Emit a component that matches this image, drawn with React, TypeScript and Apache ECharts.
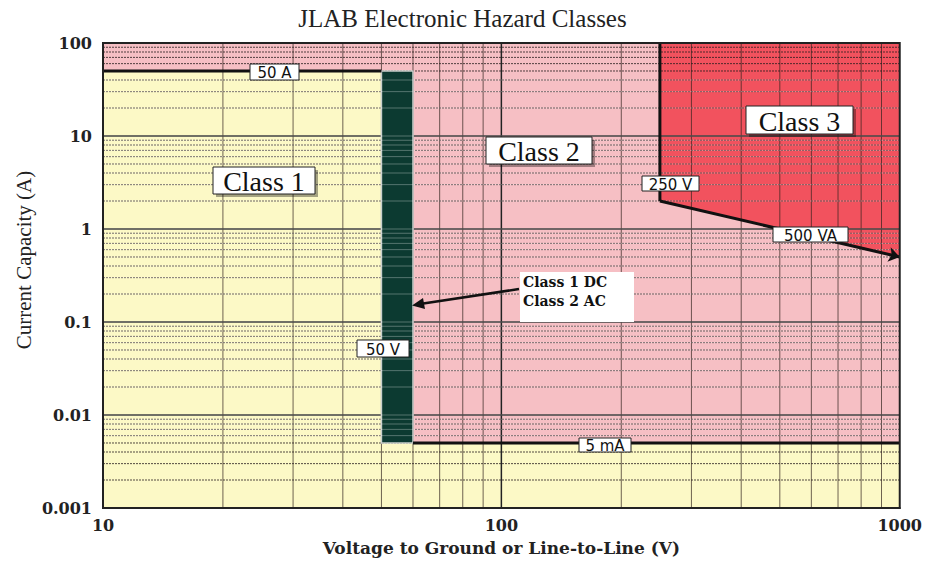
import React, { useEffect, useRef } from "react";
import * as echarts from "echarts";

// ---------- data ----------
const chartTitle = "JLAB Electronic Hazard Classes";
const xAxisName = "Voltage to Ground or Line-to-Line (V)";
const yAxisName = "Current Capacity (A)";

const xRange = [10, 1000];
const yRange = [0.001, 100];

// hazard class boundaries
const LIMIT_50A = 50;
const LIMIT_50V = 50;
const LIMIT_5MA = 0.005;
const LIMIT_250V = 250;
const VA_START = [250, 2];
const VA_END = [1000, 0.5];

const class2Region = [[10, 0.001], [10, 100], [1000, 100], [1000, 0.001]];
const class1Region = [[10, 0.001], [10, 50], [50, 50], [50, 0.005], [1000, 0.005], [1000, 0.001]];
const class3Region = [[250, 100], [1000, 100], [1000, 0.5], [250, 2]];
const dcBarRegion = [[50, 0.005], [50, 50], [60, 50], [60, 0.005]];

const line50A = [[10, 50], [50, 50]];
const line5mA = [[60, 0.005], [1000, 0.005]];
const line250V = [[250, 100], [250, 2]];

// log-paper grid lines
const xMinorGrid = [20, 30, 40, 50, 60, 70, 80, 90, 200, 300, 400, 500, 600, 700, 800, 900];
const xMajorGrid = [100];
const yMinorGrid = [
  0.002, 0.003, 0.004, 0.005, 0.006, 0.007, 0.008, 0.009,
  0.02, 0.03, 0.04, 0.05, 0.06, 0.07, 0.08, 0.09,
  0.2, 0.3, 0.4, 0.5, 0.6, 0.7, 0.8, 0.9,
  2, 3, 4, 5, 6, 7, 8, 9,
  20, 30, 40, 50, 60, 70, 80, 90,
];
const yMajorGrid = [0.01, 0.1, 1, 10];

// ---------- styles ----------
const YELLOW = "#fcf9c6";
const PINK = "#f6bfc4";
const RED = "#f2525e";
const DARK = "#0c3a31";

const regions = [
  { pts: class2Region, fill: PINK },
  { pts: class1Region, fill: YELLOW },
  { pts: class3Region, fill: RED },
];

function fmtNum(v: number) {
  return String(Number(v.toPrecision(3)));
}

function labelBox(x: number, y: number, w: number, h: number, text: string, font: any, shadow: boolean): any[] {
  const els: any[] = [];
  if (shadow) {
    els.push({
      type: "rect",
      z: 100,
      shape: { x: x + 3, y: y + 3, width: w, height: h },
      style: { fill: "rgba(0,0,0,0.35)" },
    });
  }
  els.push({
    type: "rect",
    z: 101,
    shape: { x, y, width: w, height: h },
    style: { fill: "#ffffff", stroke: "#222", lineWidth: 1 },
  });
  els.push({
    type: "text",
    z: 102,
    x: x + w / 2,
    y: y + h / 2 + 1,
    style: {
      text,
      align: "center",
      verticalAlign: "middle",
      fill: "#111",
      fontFamily: font.fontFamily,
      fontSize: font.fontSize,
    },
  });
  return els;
}

export default function App() {
  const ref = useRef<HTMLDivElement>(null);

  useEffect(() => {
    if (!ref.current) return;
    const chart = echarts.init(ref.current, undefined, { renderer: "svg" });

    const smallFont = { fontFamily: "DejaVu Sans", fontSize: 15 };
    const classFont = { fontFamily: "Liberation Serif", fontSize: 28 };

    const gridLine = (values: number[], vertical: boolean, style: any, z: number) => ({
      type: "custom",
      coordinateSystem: "cartesian2d",
      silent: true,
      z,
      clip: true,
      data: values.map((v) => (vertical ? [v, yRange[0]] : [xRange[0], v])),
      renderItem: (_p: any, api: any) => {
        const a = vertical ? api.coord([api.value(0), yRange[0]]) : api.coord([xRange[0], api.value(1)]);
        const b = vertical ? api.coord([api.value(0), yRange[1]]) : api.coord([xRange[1], api.value(1)]);
        return {
          type: "line",
          shape: { x1: a[0], y1: a[1], x2: b[0], y2: b[1] },
          style,
        };
      },
    });

    const boundary = (data: number[][]) => ({
      type: "line",
      data,
      z: 6,
      silent: true,
      showSymbol: false,
      symbol: "none",
      lineStyle: { color: "#111", width: 3 },
    });

    chart.setOption({
      animation: false,
      title: {
        text: chartTitle,
        left: "center",
        top: 1,
        textStyle: { fontFamily: "Liberation Serif", fontSize: 25, fontWeight: "normal", color: "#222" },
      },
      grid: { left: 103, right: 20, top: 43, bottom: 47 },
      xAxis: {
        type: "log",
        logBase: 10,
        min: xRange[0],
        max: xRange[1],
        name: xAxisName,
        nameLocation: "middle",
        nameGap: 31,
        nameTextStyle: { fontFamily: "DejaVu Serif", fontWeight: "bold", fontSize: 17, color: "#222" },
        axisLine: { show: true, lineStyle: { color: "#222", width: 2 } },
        axisTick: { show: false },
        splitLine: { show: false },
        axisLabel: {
          margin: 9,
          fontFamily: "DejaVu Serif",
          fontWeight: "bold",
          fontSize: 16,
          color: "#222",
          formatter: (v: number) => fmtNum(v),
        },
      },
      yAxis: {
        type: "log",
        logBase: 10,
        min: yRange[0],
        max: yRange[1],
        splitNumber: 5,
        axisLine: { show: true, lineStyle: { color: "#222", width: 2 } },
        axisTick: { show: false },
        splitLine: { show: false },
        axisLabel: {
          margin: 11,
          fontFamily: "DejaVu Serif",
          fontWeight: "bold",
          fontSize: 16,
          color: "#222",
          formatter: (v: number) => fmtNum(v),
        },
      },
      series: [
        {
          type: "custom",
          coordinateSystem: "cartesian2d",
          silent: true,
          z: 1,
          clip: true,
          data: regions.map((r, i) => [r.pts[0][0], r.pts[0][1], i]),
          renderItem: (_p: any, api: any) => {
            const r = regions[api.value(2)];
            return {
              type: "polygon",
              shape: { points: r.pts.map((p) => api.coord(p)) },
              style: { fill: r.fill },
            };
          },
        },
        gridLine(xMinorGrid, true, { stroke: "rgba(50,35,30,0.7)", lineWidth: 1 }, 2),
        gridLine(yMinorGrid, false, { stroke: "rgba(40,30,30,0.8)", lineWidth: 1, lineDash: [2, 1] }, 2),
        gridLine(xMajorGrid, true, { stroke: "#222", lineWidth: 1.5 }, 3),
        gridLine(yMajorGrid, false, { stroke: "#222", lineWidth: 1.3 }, 3),
        {
          type: "custom",
          coordinateSystem: "cartesian2d",
          silent: true,
          z: 4,
          clip: true,
          data: [[dcBarRegion[0][0], dcBarRegion[0][1]]],
          renderItem: (_p: any, api: any) => ({
            type: "polygon",
            shape: { points: dcBarRegion.map((p) => api.coord(p)) },
            style: { fill: DARK, stroke: "#c9cfcc", lineWidth: 1.5 },
          }),
        },
        gridLine(
          yMajorGrid.concat(yMinorGrid).filter((v) => v > LIMIT_5MA && v < LIMIT_50A),
          false,
          { stroke: "rgba(255,255,255,0.3)", lineWidth: 1 },
          5
        ),
        boundary(line50A),
        boundary(line5mA),
        boundary(line250V),
        {
          type: "lines",
          coordinateSystem: "cartesian2d",
          silent: true,
          z: 6,
          symbol: ["none", "arrow"],
          symbolSize: 11,
          lineStyle: { color: "#111", width: 3, opacity: 1, curveness: 0 },
          data: [{ coords: [VA_START, VA_END] }],
        },
        {
          type: "custom",
          coordinateSystem: "cartesian2d",
          silent: true,
          z: 7,
          clip: false,
          data: [[xRange[0], yRange[0]]],
          renderItem: (_p: any, api: any) => {
            const a = api.coord([xRange[0], yRange[1]]);
            const b = api.coord([xRange[1], yRange[0]]);
            return {
              type: "rect",
              shape: { x: a[0], y: a[1], width: b[0] - a[0], height: b[1] - a[1] },
              style: { fill: "none", stroke: "#222", lineWidth: 2 },
            };
          },
        },
      ],
      graphic: [
        {
          type: "text",
          x: 24,
          y: 260,
          rotation: Math.PI / 2,
          z: 100,
          style: {
            text: yAxisName,
            align: "center",
            verticalAlign: "middle",
            fontFamily: "Liberation Serif",
            fontSize: 21,
            fill: "#222",
          },
        },
        ...labelBox(250, 64, 49, 16, `${LIMIT_50A} A`, smallFont, false),
        ...labelBox(213, 167, 102, 27, "Class 1", classFont, true),
        ...labelBox(486, 137, 106, 27, "Class 2", classFont, true),
        ...labelBox(746, 106, 107, 28, "Class 3", classFont, true),
        ...labelBox(642, 176, 57, 15, `${LIMIT_250V} V`, smallFont, false),
        ...labelBox(773, 227, 75, 15, "500 VA", smallFont, false),
        ...labelBox(357, 340, 52, 17, `${LIMIT_50V} V`, smallFont, false),
        ...labelBox(579, 438, 52, 14, "5 mA", smallFont, false),
        {
          type: "rect",
          z: 100,
          shape: { x: 520, y: 272, width: 114, height: 50 },
          style: { fill: "#ffffff" },
        },
        {
          type: "text",
          z: 101,
          x: 523,
          y: 272,
          style: {
            text: "Class 1 DC\nClass 2 AC",
            fontFamily: "DejaVu Serif",
            fontWeight: "bold",
            fontSize: 14,
            lineHeight: 19,
            fill: "#111",
          },
        },
        {
          type: "line",
          z: 101,
          shape: { x1: 519, y1: 289, x2: 420, y2: 304 },
          style: { stroke: "#111", lineWidth: 2.5 },
        },
        {
          type: "polygon",
          z: 101,
          shape: { points: [[412, 305.5], [423, 298], [425, 309]] },
          style: { fill: "#111" },
        },
      ],
    });

    return () => chart.dispose();
  }, []);

  return (
    <div
      ref={ref}
      style={{ position: "absolute", left: 0, top: 0, width: 925, height: 561 }}
    />
  );
}
